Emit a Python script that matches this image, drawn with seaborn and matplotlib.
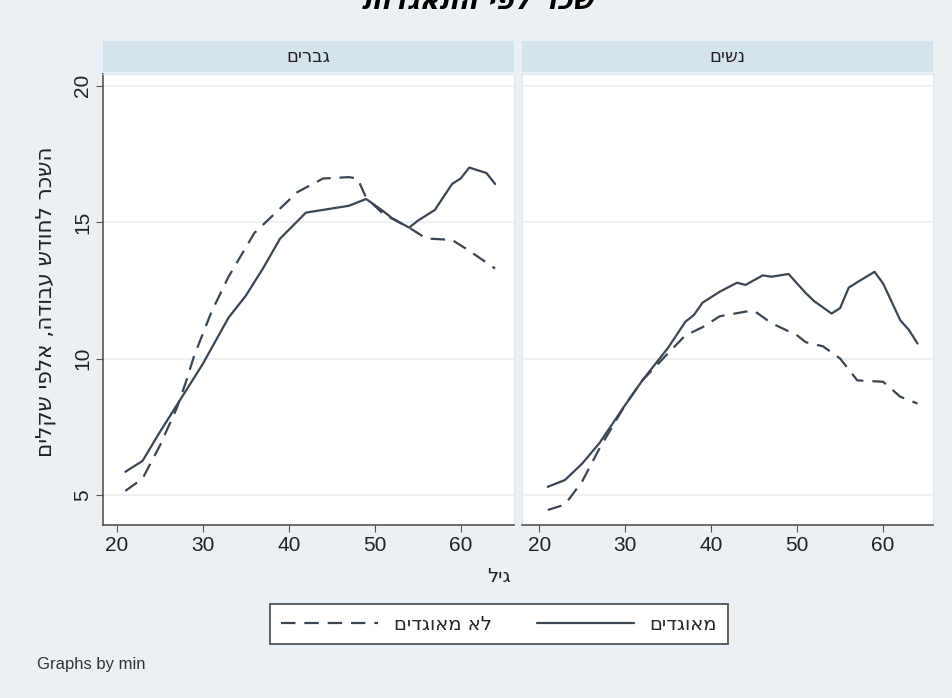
"""
Monthly wage by age, unionized vs non-unionized, men / women panels
"""

import pandas as pd
import matplotlib.pyplot as plt
import seaborn as sns
from matplotlib.lines import Line2D

sns.set_style("white")
plt.rcParams['font.family'] = ['Liberation Sans', 'DejaVu Sans']
HEB = ['DejaVu Sans']


def rtl(s):
    # matplotlib has no bidi support: reverse Hebrew strings for display
    return s[::-1]


# ---- data (wage in thousands of NIS) ----
panel_names = ['גברים', 'נשים']
status_names = ['מאוגדים', 'לא מאוגדים']

men_union_age = [21, 23, 25, 27, 30, 33, 35, 37, 39, 42, 47, 49, 51, 52, 54, 55, 57, 59, 60, 61, 63, 64]
men_union_wage = [5.85, 6.25, 7.3, 8.3, 9.8, 11.5, 12.3, 13.3, 14.4, 15.35, 15.6, 15.85, 15.4, 15.15,
                  14.8, 15.05, 15.45, 16.4, 16.6, 17.0, 16.8, 16.4]

men_nonunion_age = [21, 23, 25, 27, 28, 29, 31, 33, 36, 38, 41, 44, 47, 48, 49, 51, 54, 56, 59, 61, 64]
men_nonunion_wage = [5.15, 5.6, 6.8, 8.2, 9.1, 10.1, 11.7, 13.0, 14.6, 15.2, 16.1, 16.6, 16.65, 16.6,
                     15.9, 15.3, 14.8, 14.4, 14.35, 13.95, 13.3]

women_union_age = [21, 23, 25, 27, 30, 32, 35, 37, 38, 39, 41, 43, 44, 46, 47, 49, 51, 52, 54, 55,
                   56, 57, 59, 60, 62, 63, 64]
women_union_wage = [5.3, 5.55, 6.15, 6.9, 8.3, 9.2, 10.4, 11.35, 11.6, 12.05, 12.45, 12.78, 12.7, 13.05,
                    13.0, 13.1, 12.4, 12.1, 11.65, 11.85, 12.6, 12.8, 13.18, 12.75, 11.4, 11.05, 10.55]

women_nonunion_age = [21, 23, 25, 27, 30, 32, 35, 37, 39, 41, 44, 45, 47, 50, 51, 53, 55, 57, 60, 62, 64]
women_nonunion_wage = [4.45, 4.65, 5.5, 6.7, 8.3, 9.2, 10.2, 10.85, 11.15, 11.55, 11.72, 11.75, 11.3,
                       10.85, 10.6, 10.45, 10.0, 9.2, 9.15, 8.6, 8.35]

y_label = 'השכר לחודש עבודה, אלפי שקלים'
x_label = 'גיל'
title_text = 'שכר לפי התאגדות'
note_text = 'Graphs by min'


def build_frame():
    parts = [
        (panel_names[0], status_names[0], men_union_age, men_union_wage),
        (panel_names[0], status_names[1], men_nonunion_age, men_nonunion_wage),
        (panel_names[1], status_names[0], women_union_age, women_union_wage),
        (panel_names[1], status_names[1], women_nonunion_age, women_nonunion_wage),
    ]
    frames = []
    for panel, status, ages, wages in parts:
        frames.append(pd.DataFrame({'panel': panel, 'status': status, 'age': ages, 'wage': wages}))
    return pd.concat(frames, ignore_index=True)


def make_chart():
    df = build_frame()

    bg = '#eaf0f4'
    strip_col = '#d5e3eb'
    line_col = '#3a4655'
    axis_col = '#555555'
    W, H = 952, 698

    fig = plt.figure(figsize=(W / 100, H / 100), dpi=100, facecolor=bg)

    # panel geometry in pixels: (left, top, width, height)
    panels = [(103, 74, 411, 451), (522, 74, 411, 451)]
    xlims = [(18.4, 66.2), (18.0, 65.8)]
    dashes = {status_names[0]: '', status_names[1]: (6.5, 4)}

    for i, (name, (l, t, w, h)) in enumerate(zip(panel_names, panels)):
        ax = fig.add_axes([l / W, 1 - (t + h) / H, w / W, h / H])
        ax.set_facecolor('white')
        sub = df[df['panel'] == name]
        sns.lineplot(data=sub, x='age', y='wage', style='status', style_order=status_names,
                     dashes=dashes, color=line_col, linewidth=1.6, estimator=None,
                     legend=False, ax=ax)

        ax.set_xlim(*xlims[i])
        ax.set_ylim(3.9, 20.43)
        ax.set_xticks([20, 30, 40, 50, 60])
        ax.set_yticks([5, 10, 15, 20])
        ax.grid(True, axis='y', color='#eef2f4', linewidth=1.5)
        ax.set_xlabel('')
        ax.set_ylabel('')
        ax.tick_params(axis='x', direction='out', length=5, color=axis_col, labelsize=15,
                       labelcolor='#222222', pad=3, bottom=True)
        for sp in ['top', 'right']:
            ax.spines[sp].set_color('#dfe7ec')
        ax.spines['bottom'].set_color(axis_col)
        ax.spines['bottom'].set_linewidth(1.2)
        if i == 0:
            ax.spines['left'].set_color(axis_col)
            ax.spines['left'].set_linewidth(1.2)
            ax.tick_params(axis='y', direction='out', length=5, color=axis_col, labelsize=15,
                           labelcolor='#222222', left=True, pad=3)
            for lab in ax.get_yticklabels():
                lab.set_rotation(90)
                lab.set_va('center')
        else:
            ax.spines['left'].set_color('#dfe7ec')
            ax.tick_params(axis='y', left=False, labelleft=False)

        # strip header
        sax = fig.add_axes([l / W, 1 - (t - 2) / H, w / W, 31 / H])
        sax.set_facecolor(strip_col)
        sax.set_xticks([])
        sax.set_yticks([])
        for sp in sax.spines.values():
            sp.set_visible(False)
        sax.text(0.5, 0.5, rtl(name), ha='center', va='center', fontsize=13, color='#222222',
                 family=HEB, transform=sax.transAxes)

    fig.text(46 / W, 1 - 302 / H, rtl(y_label), rotation=90, ha='center', va='center',
             fontsize=15.5, color='#222222', family=HEB)
    fig.text(499 / W, 1 - 577 / H, rtl(x_label), ha='center', va='center',
             fontsize=14, color='#222222', family=HEB)
    fig.text(478 / W, 1 - 1 / H, rtl(title_text), ha='center', va='center',
             fontsize=20, fontweight='bold', fontstyle='italic', color='black', family=HEB)
    fig.text(37 / W, 1 - 664 / H, note_text, ha='left', va='center', fontsize=12, color='#333333')

    handles = [Line2D([], [], color=line_col, linewidth=1.6, dashes=(6.5, 4)),
               Line2D([], [], color=line_col, linewidth=1.6)]
    labels = [rtl(status_names[1]), rtl(status_names[0])]
    leg = fig.legend(handles, labels, loc='center', bbox_to_anchor=(499 / W, 1 - 624 / H),
                     ncol=2, frameon=True, fancybox=False, handlelength=5.0,
                     handletextpad=0.8, columnspacing=2.3, borderpad=0.55,
                     prop={'family': HEB, 'size': 14})
    leg.get_frame().set_edgecolor('#555555')
    leg.get_frame().set_linewidth(1.3)
    leg.get_frame().set_facecolor('white')
    leg.get_frame().set_alpha(1)

    fig.savefig('out.png', dpi=100, facecolor=bg)


if __name__ == "__main__":
    make_chart()
